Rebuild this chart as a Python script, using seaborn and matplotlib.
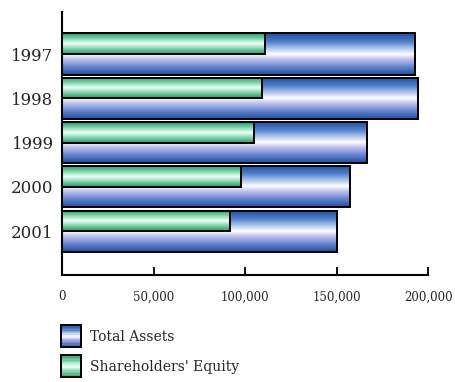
import numpy as np
import pandas as pd
import matplotlib
matplotlib.use("Agg")
import matplotlib.pyplot as plt
import seaborn as sns
from matplotlib.colors import LinearSegmentedColormap
from matplotlib.patches import Rectangle
from matplotlib.legend_handler import HandlerPatch

# ---- data ----
years = ["1997", "1998", "1999", "2000", "2001"]
total_assets = [193000, 194500, 166500, 157500, 150500]
equity = [111000, 109500, 105000, 98000, 92000]
series_names = ["Total Assets", "Shareholders' Equity"]
x_ticks = [0, 50000, 100000, 150000, 200000]
x_tick_labels = ["0", "50,000", "100,000", "150,000", "200,000"]

sns.set_style("white")
plt.rcParams["font.family"] = ["DejaVu Serif"]

blue_cmap = LinearSegmentedColormap.from_list(
    "blue", [(0, "#1c4f9e"), (0.2, "#4f7fcc"), (0.38, "#b9cbee"), (0.5, "#ffffff"),
             (0.62, "#c3c3ee"), (0.8, "#6c88d2"), (1, "#1c4f9e")])
green_cmap = LinearSegmentedColormap.from_list(
    "green", [(0, "#2a9a66"), (0.25, "#79d4a8"), (0.5, "#f4fff8"),
              (0.75, "#79d4a8"), (1, "#2a9a66")])

fig = plt.figure(figsize=(4.55, 3.82), dpi=100)
ax = fig.add_axes([62 / 455, 1 - 275 / 382, (428 - 62) / 455, (275 - 12) / 382])

df_total = pd.DataFrame({"year": years, "value": total_assets})
df_eq = pd.DataFrame({"year": years, "value": equity, "series": series_names[1]})

sns.barplot(data=df_total, y="year", x="value", orient="h", width=0.93,
            color="#6c88d2", edgecolor="black", linewidth=1.4, ax=ax, zorder=2)
n_total = len(ax.patches)
sns.barplot(data=df_eq, y="year", x="value", hue="series", orient="h",
            hue_order=[series_names[1], "_gap"], dodge=True, width=0.93,
            palette={series_names[1]: "#79d4a8", "_gap": "#ffffff"},
            edgecolor="black", linewidth=1.4, legend=False, ax=ax)

grad = np.linspace(0, 1, 64).reshape(-1, 1)
for i, p in enumerate(list(ax.patches)):
    cmap = blue_cmap if i < n_total else green_cmap
    base_z = 2 if i < n_total else 4
    x0, y0, w, h = p.get_x(), p.get_y(), p.get_width(), p.get_height()
    im = ax.imshow(grad, cmap=cmap, aspect="auto", interpolation="bilinear",
                   extent=[x0, x0 + w, y0 + h, y0], zorder=base_z + 0.5)
    im.set_clip_path(p)
    p.set_facecolor("none")
    p.set_zorder(base_z + 1)

ax.set_xlim(0, 200000)
ax.set_ylim(4.99, -0.95)
ax.set_xticks(x_ticks)
ax.set_xticklabels(x_tick_labels, fontsize=8.5)
ax.tick_params(axis="x", bottom=True, direction="in", length=6, width=1.3,
               pad=11, color="black")
ax.tick_params(axis="y", left=False, length=0, pad=6, labelsize=12)
ax.set_xlabel("")
ax.set_ylabel("")
for s in ["top", "right"]:
    ax.spines[s].set_visible(False)
for s in ["left", "bottom"]:
    ax.spines[s].set_color("black")
    ax.spines[s].set_linewidth(1.5)


class GradientHandler(HandlerPatch):
    def __init__(self, cmap, **kw):
        super().__init__(**kw)
        self.cmap = cmap

    def create_artists(self, legend, orig_handle, xdescent, ydescent, width,
                       height, fontsize, trans):
        arts = []
        n = 16
        for k in range(n):
            r = Rectangle((-xdescent, -ydescent + height * (n - 1 - k) / n),
                          width, height / n, facecolor=self.cmap((k + 0.5) / n),
                          edgecolor="none", transform=trans)
            arts.append(r)
        border = Rectangle((-xdescent, -ydescent), width, height, facecolor="none",
                           edgecolor="black", linewidth=1.4, transform=trans)
        arts.append(border)
        return arts


h_total = Rectangle((0, 0), 1, 1)
h_eq = Rectangle((0, 0), 1, 1)
fig.legend([h_total, h_eq], series_names, loc="upper left",
           bbox_to_anchor=(61 / 455, 1 - 325 / 382), frameon=False, borderpad=0,
           borderaxespad=0, handlelength=1.45, handleheight=2.1,
           handletextpad=0.65, labelspacing=0.55, fontsize=10,
           handler_map={h_total: GradientHandler(blue_cmap),
                        h_eq: GradientHandler(green_cmap)})

fig.savefig("out.png", dpi=100)
